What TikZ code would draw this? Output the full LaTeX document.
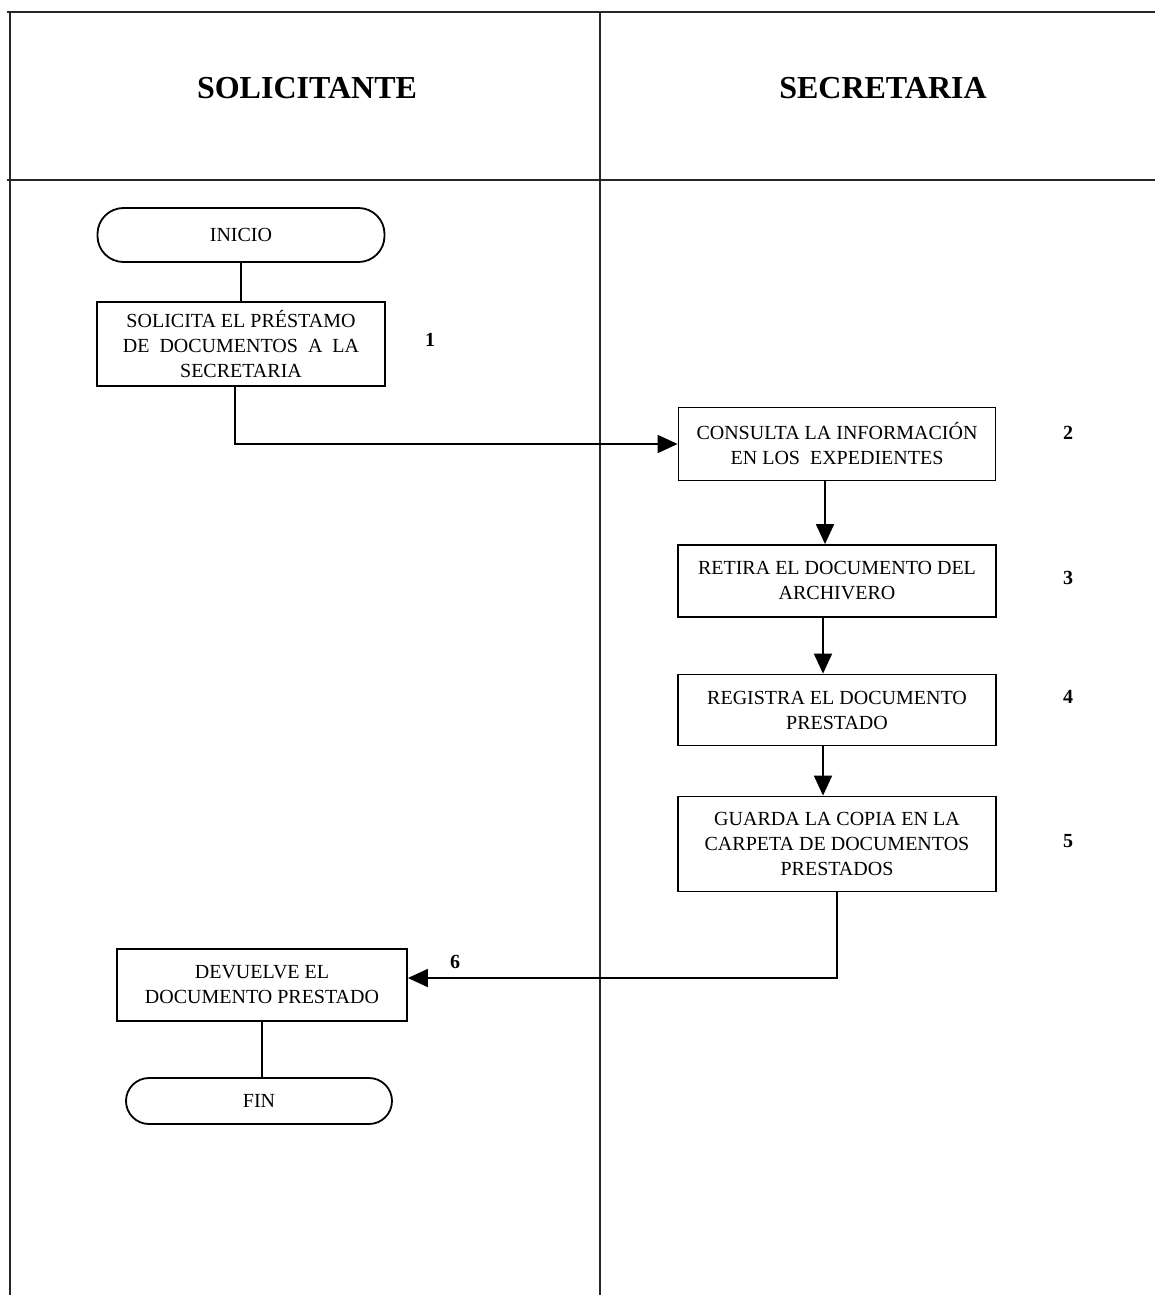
\documentclass[tikz,border=0pt]{standalone}
\usepackage{fontspec}
\setmainfont{Liberation Serif}
\usetikzlibrary{arrows.meta}
\begin{document}
\begin{tikzpicture}[x=1pt,y=-1pt,
  lane/.style={line width=1.3pt,draw=black!85},
  procbox/.style={draw,line width=1.8pt,align=center,inner sep=0pt,font=\fontsize{20}{25}\selectfont},
  term/.style={draw,line width=1.8pt,rounded corners=26pt,align=center,inner sep=0pt,font=\fontsize{20}{25}\selectfont},
  conn/.style={line width=1.8pt},
  arr/.style={conn,-{Triangle[length=20pt,width=18pt]}},
  stepnum/.style={font=\fontsize{20}{24}\selectfont\bfseries},
  head/.style={font=\fontsize{32}{36}\selectfont\bfseries}]
\useasboundingbox (0,0) rectangle (1155,1295);
% lanes
\coordinate (tl) at (7,12);
\coordinate (tr) at (1155,12);
\coordinate (hl) at (7,180);
\coordinate (hr) at (1155,180);
\coordinate (lt) at (10,12);
\coordinate (lb) at (10,1295);
\coordinate (dt) at (600,12);
\coordinate (db) at (600,1295);
\draw[lane] (tl) -- (tr);
\draw[lane] (hl) -- (hr);
\draw[lane] (lt) -- (lb);
\draw[lane] (dt) -- (db);
\node[head] (h1) at (307,88) {SOLICITANTE};
\node[head] (h2) at (883,88) {SECRETARIA};
% nodes
\node[term,minimum width=287pt,minimum height=54pt] (ini) at (241,235) {INICIO};
\node[procbox,minimum width=288pt,minimum height=84pt] (b1) at (241,344) {SOLICITA EL PRÉSTAMO\\DE \ DOCUMENTOS \ A \ LA\\SECRETARIA};
\node[procbox,minimum width=317pt,minimum height=73pt] (b2) at (837,444) {CONSULTA LA INFORMACIÓN\\EN LOS \ EXPEDIENTES};
\node[procbox,minimum width=318pt,minimum height=72pt] (b3) at (837,581) {RETIRA EL DOCUMENTO DEL\\ARCHIVERO};
\node[procbox,minimum width=318pt,minimum height=71pt] (b4) at (837,710) {REGISTRA EL DOCUMENTO\\PRESTADO};
\node[procbox,minimum width=318pt,minimum height=95pt] (b5) at (837,844) {GUARDA LA COPIA EN LA\\CARPETA DE DOCUMENTOS\\PRESTADOS};
\node[procbox,minimum width=290pt,minimum height=72pt] (b6) at (262,985) {DEVUELVE EL\\DOCUMENTO PRESTADO};
\node[term,minimum width=266pt,minimum height=46pt,rounded corners=23pt] (fin) at (259,1101) {FIN};
% numbers
\node[stepnum] (n1) at (430,340) {1};
\node[stepnum] (n2) at (1068,433) {2};
\node[stepnum] (n3) at (1068,578) {3};
\node[stepnum] (n4) at (1068,697) {4};
\node[stepnum] (n5) at (1068,841) {5};
\node[stepnum] (n6) at (455,962) {6};
% connectors
\draw[conn] (ini) -- (b1);
\draw[arr] ([xshift=-6pt]b1.south) |- (b2.west);
\draw[arr] ([xshift=-12pt]b2.south) -- ([xshift=-12pt]b3.north);
\draw[arr] ([xshift=-14pt]b3.south) -- ([xshift=-14pt]b4.north);
\draw[arr] ([xshift=-14pt]b4.south) -- ([xshift=-14pt]b5.north);
\draw[arr] (b5.south) |- ([yshift=7pt]b6.east);
\draw[conn] (b6.south) -- (b6.south |- fin.north);
\end{tikzpicture}
\end{document}
